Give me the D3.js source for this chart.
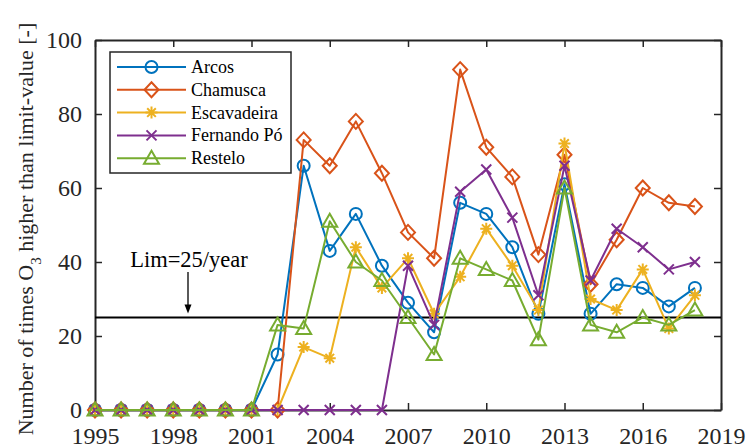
<!DOCTYPE html>
<html>
<head>
<meta charset="utf-8">
<script src="https://cdn.jsdelivr.net/npm/d3@7"></script>
<style>
  html, body { margin: 0; padding: 0; background: #fff; }
  svg { display: block; }
  svg text { font-family: "Liberation Serif", "Times New Roman", serif; }
</style>
</head>
<body>
<svg id="chart" width="747" height="448"></svg>
<script>
// Yearly count of ozone exceedances per monitoring station
const years = d3.range(1995, 2019);
const stations = ["Arcos", "Chamusca", "Escavadeira", "Fernando Pó", "Restelo"];

const arcos       = [0,0,0,0,0,0,0,15,66,43,53,39,29,21,56,53,44,26,61,26,34,33,28,33];
const chamusca    = [0,0,0,0,0,0,0,0,73,66,78,64,48,41,92,71,63,42,69,34,46,60,56,55];
const escavadeira = [0,0,0,0,0,0,0,0,17,14,44,33,41,26,36,49,39,27,72,30,27,38,22,31];
const fernandoPo  = [0,0,0,0,0,0,0,0,0,0,0,0,39,23,59,65,52,31,66,35,49,44,38,40];
const restelo     = [0,0,0,0,0,0,0,23,22,51,40,35,25,15,41,38,35,19,60,23,21,25,23,27];

const xTicks = [1995, 1998, 2001, 2004, 2007, 2010, 2013, 2016, 2019];
const yTicks = [0, 20, 40, 60, 80, 100];
const limitValue = 25;
const limitLabel = "Lim=25/year";

const colors  = ["#0072BD", "#D95319", "#EDB120", "#7E2F8E", "#77AC30"];
const markers = ["circle", "diamond", "asterisk", "cross", "triangle"];
const seriesValues = [arcos, chamusca, escavadeira, fernandoPo, restelo];

const serif = "'Liberation Serif', 'Times New Roman', serif";
const svg = d3.select("#chart");
const plotLeft = 95, plotRight = 721, plotTop = 40, plotBottom = 410;

const x = d3.scaleLinear().domain([1995, 2019]).range([plotLeft, plotRight]);
const y = d3.scaleLinear().domain([0, 100]).range([plotBottom, plotTop]);

// axes (ticks point inward, mirrored on top/right)
const tickLen = 7;
const gx = svg.append("g").attr("transform", `translate(0,${plotBottom})`)
  .call(d3.axisBottom(x).tickValues(xTicks).tickFormat(d3.format("d"))
    .tickSizeInner(-tickLen).tickSizeOuter(0).tickPadding(17));
const gy = svg.append("g").attr("transform", `translate(${plotLeft},0)`)
  .call(d3.axisLeft(y).tickValues(yTicks)
    .tickSizeInner(-tickLen).tickSizeOuter(0).tickPadding(13));
const gt = svg.append("g").attr("transform", `translate(0,${plotTop})`)
  .call(d3.axisTop(x).tickValues(xTicks).tickFormat("")
    .tickSizeInner(-tickLen).tickSizeOuter(0));
const gr = svg.append("g").attr("transform", `translate(${plotRight},0)`)
  .call(d3.axisRight(y).tickValues(yTicks).tickFormat("")
    .tickSizeInner(-tickLen).tickSizeOuter(0));

[gx, gy, gt, gr].forEach(g => {
  g.attr("font-family", null);
  g.select(".domain").attr("stroke", "#262626").attr("stroke-width", 2);
  g.selectAll(".tick line").attr("stroke", "#262626").attr("stroke-width", 1.5);
  g.selectAll(".tick text").attr("fill", "#262626")
    .style("font-family", serif)
    .style("font-size", "24px");
});

// y-axis title with subscript
const yTitle = svg.append("text")
  .attr("transform", `translate(33,229) rotate(-90)`)
  .attr("text-anchor", "middle")
  .attr("fill", "#262626")
  .style("font-family", serif)
  .style("font-size", "22px");
yTitle.append("tspan").text("Number of times O");
yTitle.append("tspan").attr("baseline-shift", "sub").style("font-size", "15px").text("3");
yTitle.append("tspan").text(" higher than limit-value [-]");

// limit line and annotation
svg.append("line")
  .attr("x1", x(1995)).attr("x2", x(2019))
  .attr("y1", y(limitValue)).attr("y2", y(limitValue))
  .attr("stroke", "#000").attr("stroke-width", 2);

const arrowX = 188;
svg.append("line")
  .attr("x1", arrowX).attr("x2", arrowX)
  .attr("y1", 272).attr("y2", y(limitValue) - 10)
  .attr("stroke", "#000").attr("stroke-width", 1.3);
svg.append("path")
  .attr("d", `M${arrowX - 3.5},${y(limitValue) - 13} L${arrowX + 3.5},${y(limitValue) - 13} L${arrowX},${y(limitValue) - 4} Z`)
  .attr("fill", "#000");
svg.append("text")
  .attr("x", 189).attr("y", 267)
  .attr("text-anchor", "middle")
  .attr("fill", "#000")
  .style("font-family", serif)
  .style("font-size", "22.5px")
  .text(limitLabel);

// marker drawing
function drawMarker(g, type, color) {
  const sw = 2;
  if (type === "circle") {
    g.append("circle").attr("r", 6).attr("fill", "none").attr("stroke", color).attr("stroke-width", sw);
  } else if (type === "diamond") {
    g.append("path").attr("d", "M0,-7.5L7,0L0,7.5L-7,0Z").attr("fill", "none").attr("stroke", color).attr("stroke-width", sw);
  } else if (type === "triangle") {
    g.append("path").attr("d", "M0,-7.5L7.5,5.5L-7.5,5.5Z").attr("fill", "none").attr("stroke", color).attr("stroke-width", sw);
  } else if (type === "cross") {
    g.append("path").attr("d", "M-5,-5L5,5M-5,5L5,-5").attr("stroke", color).attr("stroke-width", sw);
  } else if (type === "asterisk") {
    g.append("path").attr("d", "M-6,0L6,0M0,-6L0,6M-4.3,-4.3L4.3,4.3M-4.3,4.3L4.3,-4.3").attr("stroke", color).attr("stroke-width", sw);
  }
}

const line = d3.line().x((d, i) => x(years[i])).y(d => y(d));

seriesValues.forEach((vals, s) => {
  const g = svg.append("g");
  g.append("path").datum(vals)
    .attr("d", line)
    .attr("fill", "none")
    .attr("stroke", colors[s])
    .attr("stroke-width", 2)
    .attr("stroke-linejoin", "round");
  vals.forEach((v, i) => {
    const mg = g.append("g").attr("transform", `translate(${x(years[i])},${y(v)})`);
    drawMarker(mg, markers[s], colors[s]);
  });
});

// legend
const legend = svg.append("g");
legend.append("rect")
  .attr("x", 110).attr("y", 52).attr("width", 181).attr("height", 121)
  .attr("fill", "#fff").attr("stroke", "#262626").attr("stroke-width", 1.5);
stations.forEach((name, i) => {
  const cy = 67 + i * 22.8;
  legend.append("line").attr("x1", 117).attr("x2", 186).attr("y1", cy).attr("y2", cy)
    .attr("stroke", colors[i]).attr("stroke-width", 2);
  drawMarker(legend.append("g").attr("transform", `translate(151.5,${cy})`), markers[i], colors[i]);
  legend.append("text").attr("x", 191).attr("y", cy).attr("dy", "0.33em")
    .attr("fill", "#000")
    .style("font-family", serif)
    .style("font-size", "18px").text(name);
});
</script>
</body>
</html>
